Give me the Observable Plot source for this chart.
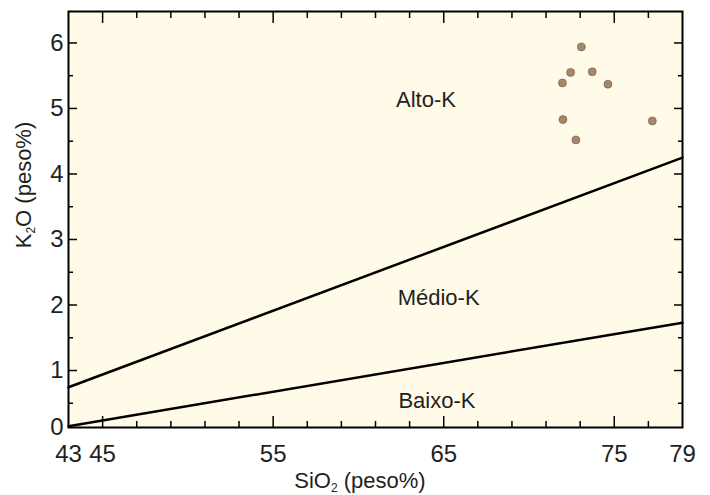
<!DOCTYPE html>
<html><head><meta charset="utf-8">
<script src="https://cdn.jsdelivr.net/npm/d3@7"></script>
<script src="https://cdn.jsdelivr.net/npm/@observablehq/plot@0.6"></script>
<style>body{margin:0;background:#fff;} #chart{width:710px;height:495px;}</style>
</head><body><div id="chart"></div><script>
// Sample data
const sio2 = [73.07, 72.44, 73.71, 71.96, 74.63, 71.99, 77.23, 72.75];
const k2o  = [5.94, 5.55, 5.56, 5.39, 5.37, 4.83, 4.81, 4.52];
// Field boundaries
const boundaryX = [43, 79];
const highMedY = [0.745, 4.25];
const medLowY  = [0.15, 1.73];
// Field labels
const fieldNames = ["Alto-K", "Médio-K", "Baixo-K"];
const fieldX = [63.96, 64.7, 64.6];
const fieldY = [5.13, 2.105, 0.53];
// Ticks
const xTickLabels = [43, 45, 55, 65, 75, 79];
const xMajorTicks = [45, 55, 65, 75];
const xMinorTicks = [47, 49, 51, 53, 57, 59, 61, 63, 67, 69, 71, 73, 77];
const yTickLabels = [1, 2, 3, 4, 5, 6];
const yZeroLabel = ["0"];
const yMajorTicks = [1, 2, 3, 4, 5, 6];
const yMinorTicks = [0.5, 1.5, 2.5, 3.5, 4.5, 5.5];
const xDomain = [43, 79];
const yDomain = [0.13, 6.48];

const samples = sio2.map((x, i) => ({x, y: k2o[i]}));
const upper = boundaryX.map((x, i) => ({x, y: highMedY[i]}));
const lower = boundaryX.map((x, i) => ({x, y: medLowY[i]}));
const fields = fieldNames.map((t, i) => ({t, x: fieldX[i], y: fieldY[i]}));

const font = "'Liberation Sans', Arial, Helvetica, sans-serif";
const ink = "#231f20";
const cream = "#fffbe8";
const tickFont = 24;

const plot = Plot.plot({
  width: 710, height: 495,
  marginLeft: 68, marginRight: 28, marginTop: 11, marginBottom: 68,
  style: {fontFamily: font, background: "#fff", color: ink},
  x: {domain: xDomain},
  y: {domain: yDomain},
  marks: [
    Plot.frame({fill: cream, stroke: null}),
    Plot.line(upper, {x: "x", y: "y", stroke: "#000", strokeWidth: 2.5}),
    Plot.line(lower, {x: "x", y: "y", stroke: "#000", strokeWidth: 2.5}),
    Plot.dot(samples, {x: "x", y: "y", r: 4, fill: "#a5876a", stroke: "#6e5a47", strokeWidth: 0.6}),
    Plot.text(fields, {x: "x", y: "y", text: "t", fontSize: 22, fill: ink, textAnchor: "middle", lineAnchor: "middle"}),
    // inward ticks
    Plot.axisX({anchor: "bottom", ticks: xMajorTicks, tickSize: -11, text: null, label: null, stroke: "#000", strokeWidth: 1.5}),
    Plot.axisX({anchor: "bottom", ticks: xMinorTicks, tickSize: -6, text: null, label: null, stroke: "#000", strokeWidth: 1.5}),
    Plot.axisX({anchor: "top", ticks: xMajorTicks, tickSize: -11, text: null, label: null, stroke: "#000", strokeWidth: 1.5}),
    Plot.axisX({anchor: "top", ticks: xMinorTicks, tickSize: -6, text: null, label: null, stroke: "#000", strokeWidth: 1.5}),
    Plot.axisY({anchor: "left", ticks: yMajorTicks, tickSize: -9, text: null, label: null, stroke: "#000", strokeWidth: 1.5}),
    Plot.axisY({anchor: "left", ticks: yMinorTicks, tickSize: -5, text: null, label: null, stroke: "#000", strokeWidth: 1.5}),
    Plot.axisY({anchor: "right", ticks: yMajorTicks, tickSize: -9, text: null, label: null, stroke: "#000", strokeWidth: 1.5}),
    Plot.axisY({anchor: "right", ticks: yMinorTicks, tickSize: -5, text: null, label: null, stroke: "#000", strokeWidth: 1.5}),
    // tick labels
    Plot.axisX({anchor: "bottom", ticks: xTickLabels, tickFormat: "d", tickSize: 0, tickPadding: 17, fontSize: tickFont, fill: ink, label: null}),
    Plot.axisY({anchor: "left", ticks: yTickLabels, tickFormat: "d", tickSize: 0, tickPadding: 5, fontSize: tickFont, fill: ink, label: null}),
    Plot.text(yZeroLabel, {frameAnchor: "bottom-left", text: d => d, dx: -5, textAnchor: "end", lineAnchor: "middle", fontSize: tickFont, fill: ink}),
    Plot.frame({stroke: "#000", strokeWidth: 2})
  ]
});
document.getElementById("chart").appendChild(plot);

// Axis titles with subscripts
const svg = d3.select(plot);
const xt = svg.append("text")
  .attr("x", 360).attr("y", 488)
  .attr("text-anchor", "middle")
  .attr("font-family", font).attr("font-size", 22).attr("fill", ink);
xt.append("tspan").text("SiO");
xt.append("tspan").attr("font-size", 12).attr("dy", 4).text("2");
xt.append("tspan").attr("dy", -4).text(" (peso%)");

const yt = svg.append("text")
  .attr("transform", "translate(31,185) rotate(-90)")
  .attr("text-anchor", "middle")
  .attr("font-family", font).attr("font-size", 22).attr("fill", ink);
yt.append("tspan").text("K");
yt.append("tspan").attr("font-size", 12).attr("dy", 4).text("2");
yt.append("tspan").attr("dy", -4).text("O (peso%)");
</script></body></html>
